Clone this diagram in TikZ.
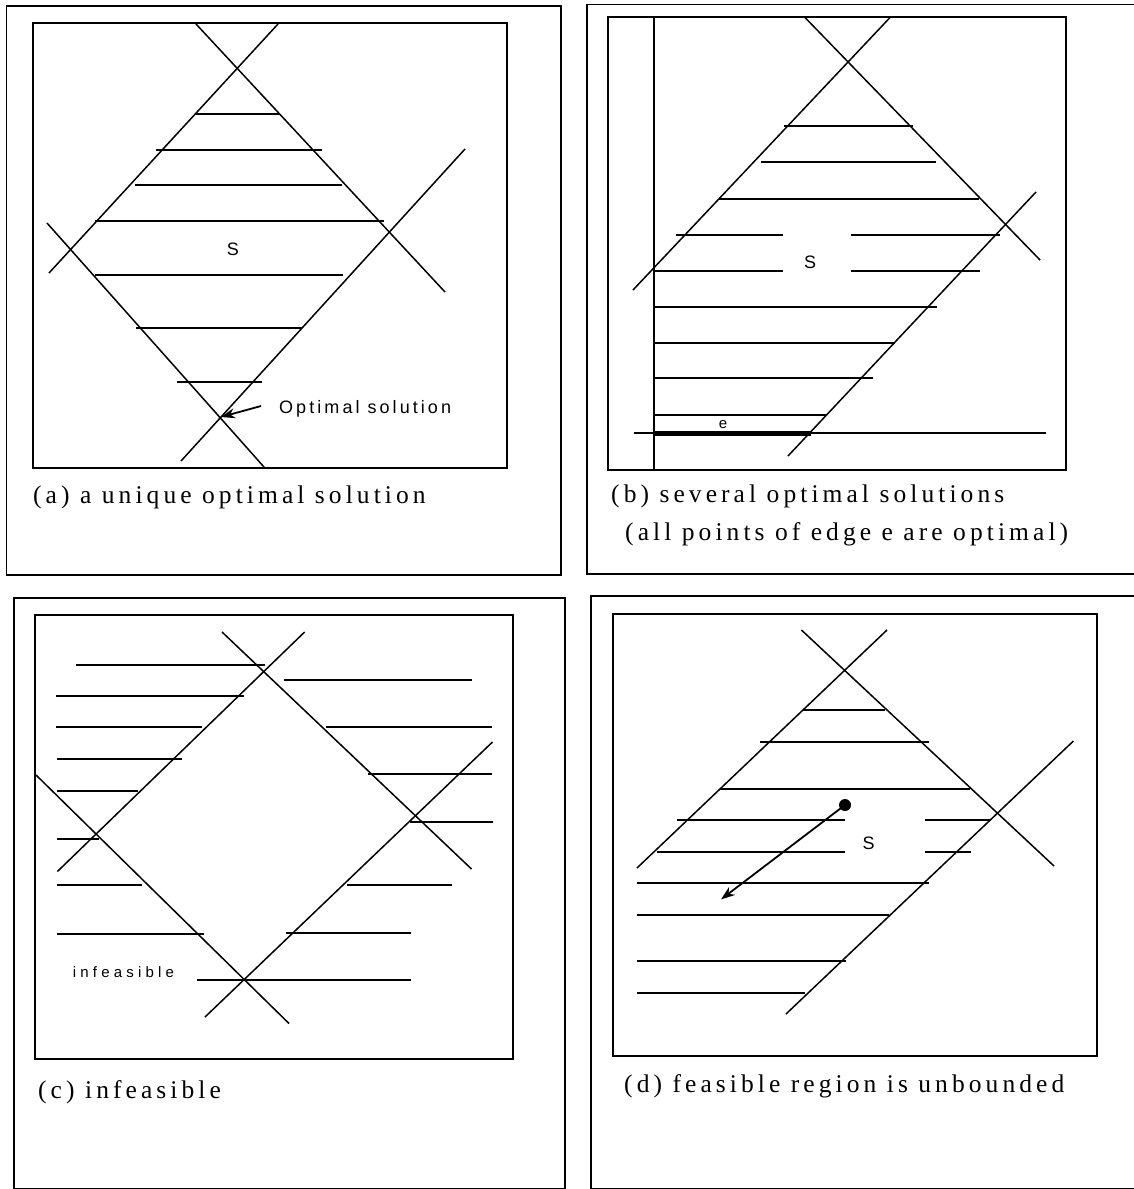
\documentclass[tikz,border=0pt]{standalone}
\usepackage{fontspec}
\setmainfont{Liberation Serif}
\newfontfamily\capfont[LetterSpace=16]{Liberation Serif}
\newfontfamily\labfont[LetterSpace=17]{Liberation Sans}
\newfontfamily\inffont[LetterSpace=28]{Liberation Sans}
\usetikzlibrary{arrows.meta}
\begin{document}
\begin{tikzpicture}[x=1pt,y=-1pt,
  outerbox/.style={line width=1.8pt},
  innerbox/.style={line width=2pt},
  cline/.style={line width=1.5pt},
  hatch/.style={line width=1.8pt},
  edgeline/.style={line width=5pt},
  capt/.style={anchor=base west, inner sep=0pt, font=\capfont\fontsize{25.5}{29}\selectfont},
  lab/.style={inner sep=0pt, font=\labfont\fontsize{18}{21}\selectfont},
  smalllab/.style={inner sep=0pt, font=\inffont\fontsize{15}{18}\selectfont},
  arr/.style={line width=1.8pt, -{Stealth[length=14pt,width=10pt]}},
]
\useasboundingbox[fill=white] (0,0) rectangle (1134,1189);
\begin{scope}
\clip (0,0) rectangle (1134,1189);
% ---------------- panel (a)
\draw[outerbox] (6.5,6) rectangle (561,575);
\draw[innerbox] (33,22.5) rectangle (507,468);
\draw[cline] (196,24) -- (445,292);
\draw[cline] (278,24) -- (49,273);
\draw[cline] (47,223) -- (264,467);
\draw[cline] (465,149) -- (181,461);
\draw[hatch] (196,114) -- (280,114)
             (156,150) -- (322,150)
             (135,185) -- (342,185)
             (95,221) -- (384,221)
             (95,275) -- (343,275)
             (136,328) -- (302,328)
             (177,382) -- (262,382);
\node[lab] (Sa) at (233,249) {S};
\node[lab, anchor=west] (opt) at (279,409) {Optimal solution};
\coordinate (opta) at (261,406);
\coordinate (xa) at (221,417);
\draw[arr] (opta) -- (xa);
\node[capt] (capa) at (33,503) {(a) a unique optimal solution};
% ---------------- panel (b)
\draw[outerbox] (1140,4.5) -- (587,4.5) -- (587,574) -- (1140,574);
\draw[innerbox] (608,17) rectangle (1066,470);
\draw[cline] (654,17) -- (654,470);
\draw[cline] (804.5,17) -- (1040,260);
\draw[cline] (890.5,17) -- (633,290);
\draw[cline] (1036,192) -- (788,456);
\draw[hatch] (784,126) -- (913,126)
             (761,162) -- (936,162)
             (719,199) -- (979,199)
             (676,235) -- (783,235)
             (851,235) -- (1000,235)
             (654,271) -- (783,271)
             (851,271) -- (980,271)
             (655,307) -- (937,307)
             (655,343) -- (895,343)
             (655,378) -- (873,378)
             (655,415) -- (826,415);
\draw[cline] (634,433) -- (1046,433);
\draw[edgeline] (654,433) -- (811,433);
\node[smalllab] (e) at (723,424.5) {e};
\node[lab] (Sb) at (810,262) {S};
\node[capt] (capb) at (611,502) {(b) several optimal solutions};
\node[capt] (capb2) at (625,540) {(all points of edge e are optimal)};
% ---------------- panel (c)
\draw[outerbox] (14,598) rectangle (565,1188.5);
\draw[innerbox] (35,615) rectangle (513,1059);
\draw[cline] (222,632) -- (471.5,869);
\draw[cline] (304.6,632) -- (57.4,871.5);
\draw[cline] (36,775) -- (289,1023.5);
\draw[cline] (492.5,742) -- (205,1017);
\draw[hatch] (76,665) -- (264.6,665)
             (56,696) -- (244,696)
             (56,727) -- (202,727)
             (57,759) -- (182,759)
             (57,791) -- (138,791)
             (57,839) -- (99,839)
             (57,885) -- (142,885)
             (57,934) -- (203.6,934)
             (283.5,680) -- (471.5,680)
             (326,727) -- (491.5,727)
             (368,774) -- (491.5,774)
             (409.7,822) -- (492.5,822)
             (347,885) -- (451.5,885)
             (286,933) -- (411,933)
             (197,980) -- (411,980);
\node[smalllab, anchor=west] (inf) at (72.7,972) {infeasible};
\node[capt] (capc) at (38,1098) {(c) infeasible};
% ---------------- panel (d)
\draw[outerbox] (1140,596) -- (591,596) -- (591,1188.5) -- (1140,1188.5);
\draw[innerbox] (613,614) rectangle (1097,1056);
\draw[cline] (801.4,630) -- (1054,866);
\draw[cline] (887,630) -- (637,868);
\draw[cline] (1073.4,741) -- (786,1014);
\draw[hatch] (803,710) -- (885.4,710)
             (760,742) -- (929,742)
             (720,789) -- (970,789)
             (677,820) -- (845,820)
             (925,820) -- (991,820)
             (657,852) -- (845,852)
             (925,852) -- (971,852)
             (637,883) -- (929,883)
             (637,915) -- (889,915)
             (637,961) -- (846,961)
             (637,993) -- (805,993);
\node[lab] (Sd) at (868.6,843) {S};
\node[circle, fill=black, minimum size=12pt, inner sep=0pt] (dot) at (845,805) {};
\coordinate (dtip) at (721,899.4);
\draw[arr] (dot.center) -- (dtip);
\node[capt] (capd) at (624,1092.5) {(d) feasible region is unbounded};
\end{scope}
\end{tikzpicture}
\end{document}
